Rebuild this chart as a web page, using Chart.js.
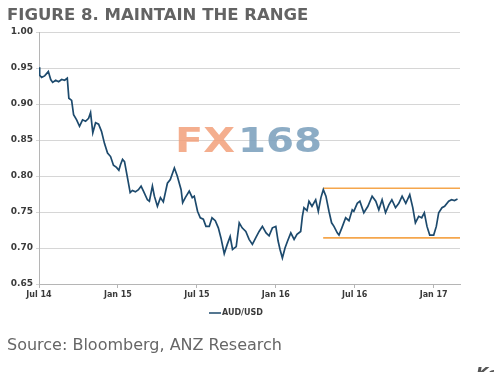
<!DOCTYPE html>
<html>
<head>
<meta charset="utf-8">
<script src="https://cdn.jsdelivr.net/npm/chart.js@4/dist/chart.umd.min.js"></script>
<style>
  html, body { margin: 0; padding: 0; background: #ffffff; }
  #wrap { position: relative; width: 494px; height: 372px; }
  canvas { display: block; }
</style>
</head>
<body>
<div id="wrap"><canvas id="c" width="494" height="372"></canvas></div>
<script>
// ---- data (x = months since Jul 2014) ----
const tickMonths = [0, 6, 12, 18, 24, 30];
const tickLabels = ['Jul 14', 'Jan 15', 'Jul 15', 'Jan 16', 'Jul 16', 'Jan 17'];
const yTicks = [0.65, 0.70, 0.75, 0.80, 0.85, 0.90, 0.95, 1.00];

const months = [
  0.00, 0.05, 0.20, 0.43, 0.71, 0.89, 1.04, 1.27, 1.49, 1.72, 1.95, 2.15, 2.27, 2.48, 2.63, 2.86,
  3.08, 3.31, 3.54, 3.77, 3.92, 4.09, 4.30, 4.53, 4.75, 4.98, 5.21, 5.44, 5.66, 5.89, 6.07, 6.20,
  6.35, 6.50, 6.72, 6.93, 7.10, 7.33, 7.56, 7.76, 7.94, 8.24, 8.39, 8.62, 8.77, 9.00, 9.23, 9.45,
  9.76, 9.98, 10.29, 10.51, 10.80, 10.92, 11.12, 11.42, 11.65, 11.80, 12.05, 12.26, 12.49, 12.69,
  12.94, 13.15, 13.40, 13.63, 13.83, 14.08, 14.31, 14.53, 14.71, 14.99, 15.22, 15.44, 15.72, 15.97,
  16.22, 16.50, 16.73, 16.98, 17.26, 17.49, 17.74, 18.00, 18.17, 18.32, 18.50, 18.70, 18.88, 19.14,
  19.39, 19.61, 19.89, 20.02, 20.14, 20.37, 20.52, 20.75, 21.03, 21.23, 21.43, 21.61, 21.81, 22.04,
  22.24, 22.42, 22.67, 22.80, 23.02, 23.31, 23.56, 23.81, 23.93, 24.19, 24.39, 24.69, 25.00, 25.32,
  25.60, 25.83, 26.08, 26.34, 26.59, 26.82, 27.10, 27.35, 27.60, 27.88, 28.18, 28.41, 28.61, 28.86,
  29.09, 29.29, 29.49, 29.70, 30.00, 30.20, 30.38, 30.63, 30.83, 31.14, 31.36, 31.58, 31.81
];
const audusd = [
  0.951, 0.940, 0.937, 0.939, 0.945, 0.934, 0.930, 0.933, 0.931, 0.934, 0.933, 0.936, 0.908, 0.905, 0.885, 0.878,
  0.869, 0.878, 0.876, 0.880, 0.888, 0.860, 0.874, 0.872, 0.862, 0.845, 0.832, 0.827, 0.815, 0.812, 0.808, 0.816,
  0.823, 0.820, 0.798, 0.777, 0.780, 0.778, 0.781, 0.786, 0.779, 0.767, 0.765, 0.786, 0.772, 0.758, 0.770, 0.764,
  0.790, 0.795, 0.811, 0.800, 0.781, 0.763, 0.770, 0.779, 0.770, 0.772, 0.751, 0.742, 0.740, 0.730,
  0.730, 0.742, 0.738, 0.728, 0.714, 0.692, 0.705, 0.716, 0.698, 0.702, 0.735, 0.728, 0.723, 0.712,
  0.705, 0.715, 0.723, 0.730, 0.721, 0.717, 0.728, 0.730, 0.710, 0.698, 0.686, 0.700, 0.709, 0.721,
  0.712, 0.719, 0.723, 0.744, 0.756, 0.752, 0.765, 0.758, 0.767, 0.751, 0.770, 0.781, 0.772, 0.751,
  0.735, 0.730, 0.721, 0.718, 0.728, 0.742, 0.738, 0.753, 0.751, 0.762, 0.765, 0.749, 0.758, 0.772,
  0.765, 0.753, 0.767, 0.749, 0.760, 0.767, 0.756, 0.762, 0.772, 0.762, 0.774, 0.756, 0.735, 0.744,
  0.742, 0.749, 0.730, 0.718, 0.718, 0.730, 0.749, 0.756, 0.758, 0.765, 0.767, 0.766, 0.768
];

const rangeMonths = [21.6, 32.1];
const rangeHigh = [0.783, 0.783];
const rangeLow = [0.714, 0.714];

const seriesName = 'AUD/USD';
const titleText = 'FIGURE 8. MAINTAIN THE RANGE';
const sourceText = 'Source: Bloomberg, ANZ Research';

// ---- build ----
const lineData = months.map((m, i) => ({ x: m, y: audusd[i] }));
const highData = rangeMonths.map((m, i) => ({ x: m, y: rangeHigh[i] }));
const lowData = rangeMonths.map((m, i) => ({ x: m, y: rangeLow[i] }));

const LINE_COLOR = '#1d4a6d';
const RANGE_COLOR = '#f5a64c';
const LABEL_COLOR = '#3a3a3a';

const decorPlugin = {
  id: 'decor',
  beforeDatasetsDraw(chart) {
    const ctx = chart.ctx;
    ctx.save();
    ctx.font = 'bold 33px "DejaVu Sans"';
    ctx.textBaseline = 'alphabetic';
    const baseY = 151.5;
    const w1 = ctx.measureText('FX').width;
    ctx.save();
    ctx.translate(175, baseY);
    ctx.scale(60 / w1, 1);
    ctx.fillStyle = 'rgba(242,160,122,0.85)';
    ctx.fillText('FX', 0, 0);
    ctx.restore();
    const w2 = ctx.measureText('168').width;
    ctx.save();
    ctx.translate(238, baseY);
    ctx.scale(84 / w2, 1);
    ctx.fillStyle = 'rgba(128,163,191,0.9)';
    ctx.fillText('168', 0, 0);
    ctx.restore();
    ctx.restore();
  },
  afterDraw(chart) {
    const ctx = chart.ctx;
    ctx.save();
    ctx.fillStyle = '#636363';
    ctx.font = 'bold 16.5px "DejaVu Sans"';
    ctx.textBaseline = 'alphabetic';
    ctx.textAlign = 'left';
    ctx.fillText(titleText, 7, 19.5);
    const ds = chart.data.datasets[0];
    ctx.strokeStyle = ds.borderColor;
    ctx.lineWidth = 1.5;
    ctx.beginPath();
    ctx.moveTo(209, 313);
    ctx.lineTo(221, 313);
    ctx.stroke();
    ctx.fillStyle = LABEL_COLOR;
    ctx.font = 'bold 8px "DejaVu Sans"';
    ctx.textBaseline = 'middle';
    ctx.fillText(ds.label, 222, 313);
    ctx.fillStyle = '#666666';
    ctx.font = '16px "DejaVu Sans"';
    ctx.textBaseline = 'alphabetic';
    ctx.fillText(sourceText, 7, 350);
    ctx.fillStyle = '#555555';
    ctx.font = 'bold italic 16px "DejaVu Sans"';
    ctx.fillText('Ke', 476, 379);
    ctx.restore();
  }
};

new Chart(document.getElementById('c'), {
  type: 'line',
  data: {
    datasets: [
      { label: seriesName, data: lineData, borderColor: LINE_COLOR, borderWidth: 1.7,
        pointRadius: 0, tension: 0, fill: false, order: 1 },
      { label: 'High', data: highData, borderColor: RANGE_COLOR, borderWidth: 1.6,
        pointRadius: 0, fill: false, order: 2 },
      { label: 'Low', data: lowData, borderColor: RANGE_COLOR, borderWidth: 1.6,
        pointRadius: 0, fill: false, order: 2 }
    ]
  },
  options: {
    responsive: false,
    animation: false,
    events: [],
    layout: { padding: { left: 0, right: 34, top: 32, bottom: 0 } },
    plugins: { legend: { display: false }, title: { display: false }, tooltip: { enabled: false } },
    scales: {
      x: {
        type: 'linear',
        min: 0,
        max: 32,
        afterBuildTicks(scale) { scale.ticks = tickMonths.map(v => ({ value: v })); },
        afterFit(scale) { scale.height = 88; },
        ticks: {
          autoSkip: false,
          maxRotation: 0,
          padding: 2,
          color: LABEL_COLOR,
          font: { family: '"DejaVu Sans"', size: 8, weight: 'bold' },
          callback(v) { const i = tickMonths.indexOf(v); return i >= 0 ? tickLabels[i] : ''; }
        },
        grid: { drawOnChartArea: false, drawTicks: true, tickLength: 4, color: '#b5b5b5' },
        border: { display: true, color: '#b5b5b5', width: 1 }
      },
      y: {
        min: 0.65,
        max: 1.00,
        afterBuildTicks(scale) { scale.ticks = yTicks.map(v => ({ value: v })); },
        afterFit(scale) { scale.width = 39; },
        ticks: {
          padding: 3,
          color: LABEL_COLOR,
          font: { family: '"DejaVu Sans"', size: 9, weight: 'bold' },
          callback(v) { return Number(v).toFixed(2); }
        },
        grid: { color: '#d6d6d6', lineWidth: 1, drawTicks: true, tickLength: 3 },
        border: { display: true, color: '#b5b5b5', width: 1 }
      }
    }
  },
  plugins: [decorPlugin]
});
</script>
</body>
</html>
